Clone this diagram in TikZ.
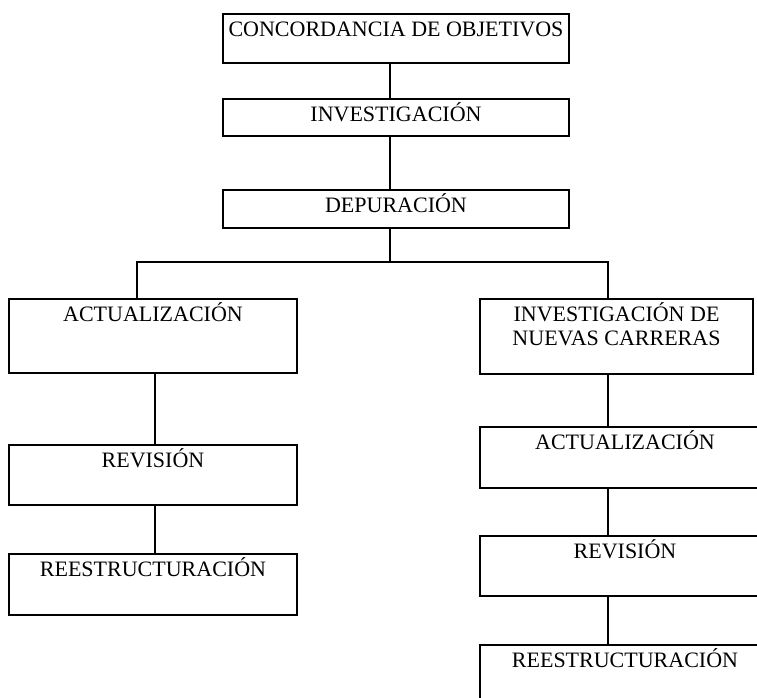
\documentclass[tikz,border=0pt]{standalone}
\usepackage{fontspec}
\setmainfont{Liberation Serif}
\usepackage{tikz}

\begin{document}
\begin{tikzpicture}[x=1pt,y=-1pt,
  caja/.style={draw,line width=1.7pt,anchor=north,inner xsep=0pt,inner ysep=9pt,
    text height=14pt,align=center,font=\fontsize{22}{24}\selectfont},
  linea/.style={line width=1.7pt}]
\useasboundingbox (0,0) rectangle (757,698);
\clip (0,0) rectangle (757,698);
\coordinate (trunk) at (390,262);
\coordinate (ramL) at (137,262);
\coordinate (ramR) at (608,262);
\coordinate (colL) at (155,0);
\coordinate (colR) at (608,0);
\node[caja,minimum width=346pt,text depth=17pt] (conc) at (396,13) {CONCORDANCIA DE OBJETIVOS};
\node[caja,minimum width=346pt,text depth=5pt] (inv) at (396,98) {INVESTIGACIÓN};
\node[caja,minimum width=346pt,text depth=6pt] (dep) at (396,189) {DEPURACIÓN};
\node[caja,minimum width=288pt,text depth=42pt] (actL) at (153,298) {ACTUALIZACIÓN};
\node[caja,minimum width=288pt,text depth=28pt] (revL) at (153,444) {REVISIÓN};
\node[caja,minimum width=288pt,text depth=29pt] (reeL) at (153,553) {REESTRUCTURACIÓN};
\node[caja,minimum width=273pt,text height=38pt,text depth=19pt] (invR) at (616.5,298) {INVESTIGACIÓN DE\\NUEVAS CARRERAS};
\node[caja,minimum width=290pt,text depth=29pt] (actR) at (625,426) {ACTUALIZACIÓN};
\node[caja,minimum width=290pt,text depth=28pt] (revR) at (625,535) {REVISIÓN};
\node[caja,minimum width=290pt,text depth=30pt] (reeR) at (625,644) {REESTRUCTURACIÓN};
\draw[linea] (conc.south -| trunk) -- (inv.north -| trunk);
\draw[linea] (inv.south -| trunk) -- (dep.north -| trunk);
\draw[linea] (dep.south -| trunk) -- (trunk);
\draw[linea] (actL.north -| ramL) -- (ramL) -- (ramR) -- (invR.north -| ramR);
\foreach \a/\b in {actL/revL,revL/reeL}
  \draw[linea] (\a.south -| colL) -- (\b.north -| colL);
\foreach \a/\b in {invR/actR,actR/revR,revR/reeR}
  \draw[linea] (\a.south -| colR) -- (\b.north -| colR);
\end{tikzpicture}
\end{document}
